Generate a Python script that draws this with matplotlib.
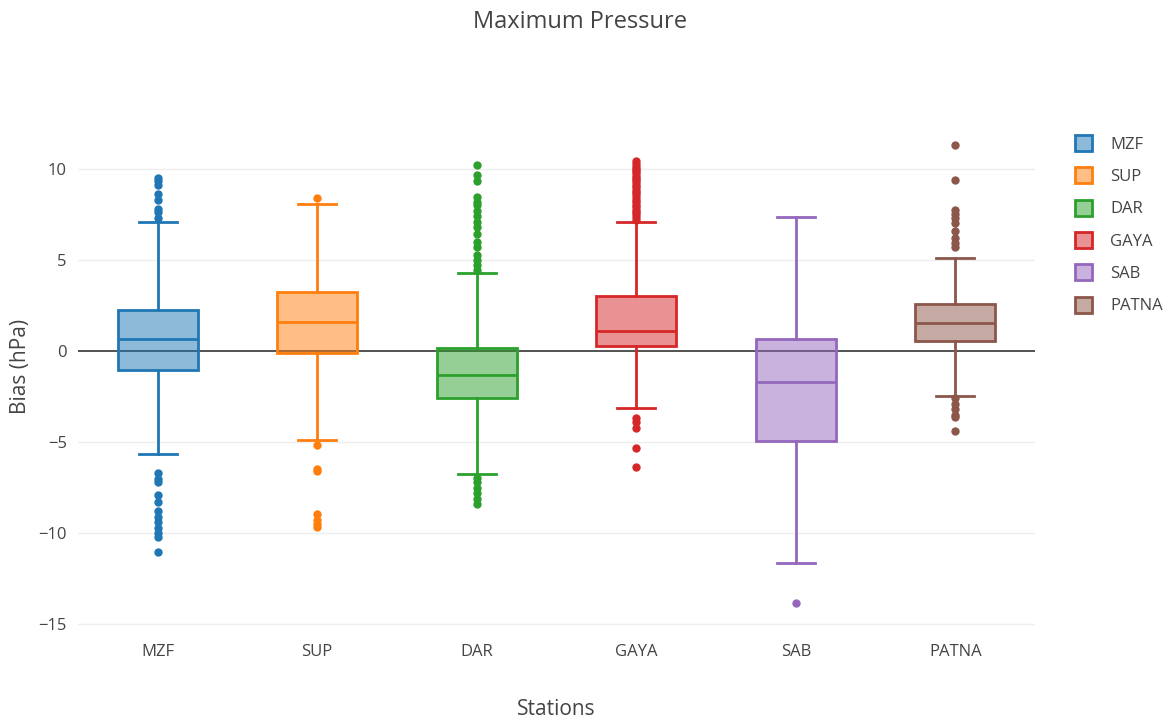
import matplotlib
matplotlib.use("Agg")
import matplotlib.pyplot as plt
from matplotlib.patches import Patch
from matplotlib.colors import to_rgba

plt.rcParams['font.family'] = ['Open Sans', 'DejaVu Sans']

stations = ["MZF", "SUP", "DAR", "GAYA", "SAB", "PATNA"]
colors = ["#1f77b4", "#ff7f0e", "#2ca02c", "#d62728", "#9467bd", "#8c564b"]

# five-number summaries of the pressure bias per station (hPa)
q1 = [-1.04, -0.09, -2.60, 0.27, -4.92, 0.55]
median = [0.66, 1.61, -1.32, 1.12, -1.68, 1.55]
q3 = [2.25, 3.22, 0.18, 3.02, 0.64, 2.56]
whisker_lo = [-5.67, -4.90, -6.77, -3.11, -11.61, -2.47]
whisker_hi = [7.09, 8.05, 4.26, 7.09, 7.35, 5.12]

# outliers beyond the whiskers
outliers_mzf = [9.5, 9.3, 9.1, 8.6, 8.3, 7.8, 7.6, 7.3,
                -6.7, -7.0, -7.2, -7.9, -8.3, -8.8, -9.1, -9.4, -9.7, -10.0, -10.2, -11.0]
outliers_sup = [8.41, -5.16, -6.45, -6.6, -8.95, -9.25, -9.5, -9.66]
outliers_dar = [10.2, 9.65, 9.3, 8.46, 8.2, 8.0, 7.7, 7.4, 7.1, 6.8, 6.4, 6.0, 5.7,
                5.27, 5.0, 4.7, 4.45, -6.97, -7.2, -7.5, -7.8, -8.1, -8.4]
outliers_gaya = [7.2, 7.35, 7.5, 7.6, 7.75, 7.9, 8.0, 8.15, 8.3, 8.45, 8.6, 8.7, 8.85,
                 9.0, 9.1, 9.25, 9.4, 9.5, 9.6, 9.75, 9.9, 10.0, 10.1, 10.25, 10.4,
                 -3.7, -3.9, -4.2, -5.3, -6.35]
outliers_sab = [-13.84]
outliers_patna = [11.3, 9.38, 7.73, 7.5, 7.3, 7.0, 6.6, 6.2, 5.9, 5.72,
                  -2.6, -2.9, -3.2, -3.5, -3.6, -4.39]
outliers = [outliers_mzf, outliers_sup, outliers_dar, outliers_gaya, outliers_sab, outliers_patna]

fig = plt.figure(figsize=(11.74, 7.23), dpi=100)
ax = fig.add_axes([78 / 1174, 1 - 633 / 723, (1035 - 78) / 1174, (633 - 100) / 723])

grid_c = "#eeeeee"
for v in [-15, -10, -5, 5, 10]:
    ax.axhline(v, color=grid_c, lw=1, zorder=0)
ax.axhline(0, color="#444444", lw=1.3, zorder=1)

for i, name in enumerate(stations):
    stats = [dict(label=name, q1=q1[i], med=median[i], q3=q3[i],
                  whislo=whisker_lo[i], whishi=whisker_hi[i], fliers=outliers[i])]
    c = colors[i]
    ax.bxp(stats, positions=[i], widths=0.5, patch_artist=True, manage_ticks=False,
           boxprops=dict(facecolor=to_rgba(c, 0.5), edgecolor=c, linewidth=2),
           medianprops=dict(color=c, linewidth=2),
           whiskerprops=dict(color=c, linewidth=2),
           capprops=dict(color=c, linewidth=2),
           capwidths=0.24,
           flierprops=dict(marker='o', markerfacecolor=c, markeredgecolor=c,
                           markersize=5, linestyle='none'),
           zorder=3)

ax.set_xlim(-0.5, 5.5)
ax.set_ylim(-15.47, 13.77)
ax.set_xticks(range(len(stations)))
ax.set_xticklabels(stations)
ax.set_yticks([-15, -10, -5, 0, 5, 10])
ax.set_yticklabels(["\u221215", "\u221210", "\u22125", "0", "5", "10"])
ax.tick_params(axis='both', length=0, labelsize=12, labelcolor="#444444")
ax.tick_params(axis='y', pad=8)
ax.tick_params(axis='x', pad=8)
for s in ax.spines.values():
    s.set_visible(False)

ax.set_xlabel("Stations", fontsize=15, color="#444444", labelpad=28)
ax.set_ylabel("Bias (hPa)", fontsize=15, color="#444444", labelpad=5)
fig.text(580 / 1174, 1 - 22 / 723, "Maximum Pressure", ha='center', va='center',
         fontsize=17, color="#444444")

handles = [Patch(facecolor=to_rgba(c, 0.5), edgecolor=c, linewidth=2, label=s)
           for s, c in zip(stations, colors)]
leg = fig.legend(handles=handles, loc='upper left', bbox_to_anchor=(1060 / 1174, 1 - 120 / 723),
                 frameon=False, fontsize=12, handlelength=1.0, handleheight=1.1,
                 labelspacing=0.88, handletextpad=1.1, labelcolor="#444444")

fig.savefig("out.png", dpi=100)
